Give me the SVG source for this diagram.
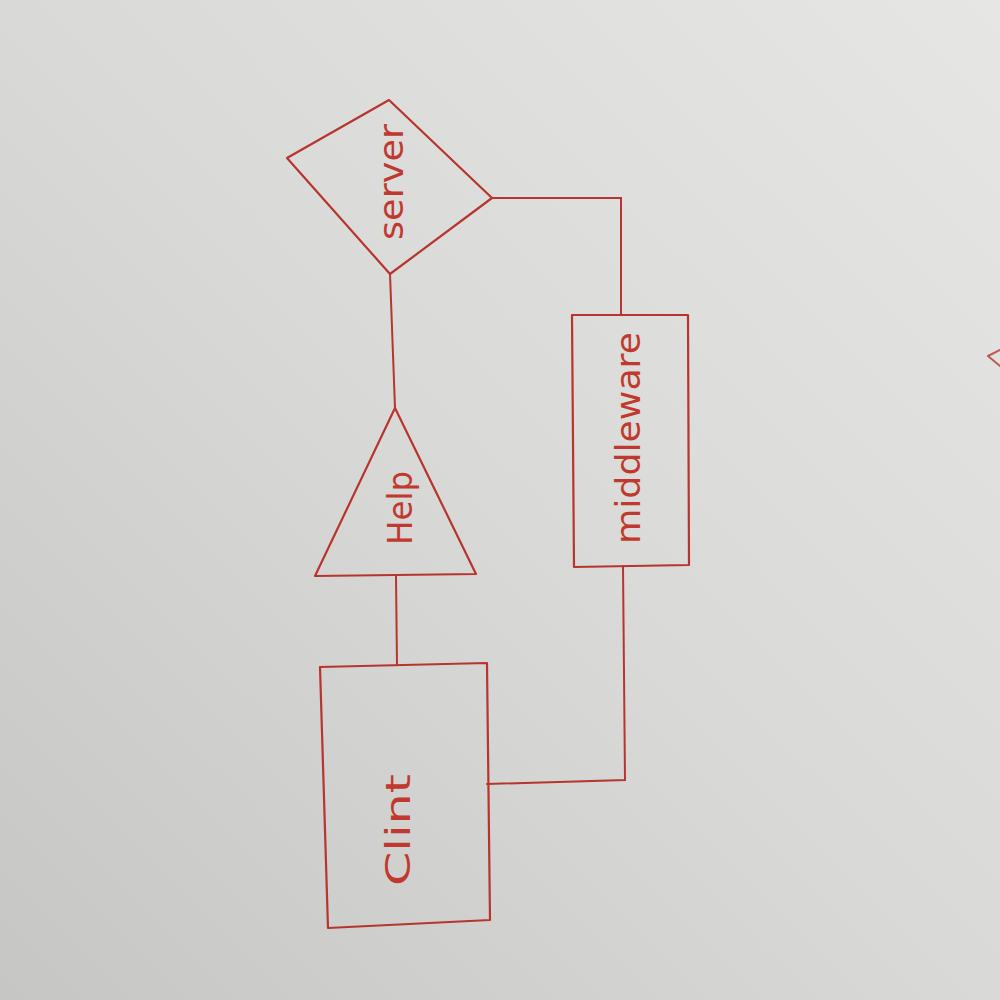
<svg xmlns="http://www.w3.org/2000/svg" width="1000" height="1000" viewBox="0 0 1000 1000">
  <defs>
    <linearGradient id="paper" x1="1" y1="0" x2="0" y2="1">
      <stop offset="0" stop-color="#e6e6e4"/>
      <stop offset="0.5" stop-color="#d9d9d7"/>
      <stop offset="1" stop-color="#c6c6c4"/>
    </linearGradient>
  </defs>
  <style>
    .shape { fill: none; stroke: #b8342e; stroke-width: 2.2; stroke-linejoin: round; stroke-linecap: round; }
    .edge { fill: none; stroke: #b8342e; stroke-width: 2; stroke-linecap: round; }
    .lbl { fill: #c0392f; font-family: "DejaVu Sans", "Liberation Sans", sans-serif; font-size: 34px; text-anchor: middle; dominant-baseline: central; lengthAdjust: spacingAndGlyphs; }
  </style>
  <rect x="0" y="0" width="1000" height="1000" fill="url(#paper)"/>
  <path d="M988,356 L1000,350 M988,356 L1000,366" class="edge" opacity="0.8"/>

  <g id="connectors">
    <path class="edge" d="M390,274 L395,408"/>
    <path class="edge" d="M396,576 L397,665"/>
    <path class="edge" d="M487,784 L625,780 L623,566"/>
    <path class="edge" d="M621,315 L621,198 L492,198"/>
  </g>

  <g id="server">
    <polygon class="shape" points="389,100 492,198 390,274 287,158"/>
    <text class="lbl" transform="translate(391,182) rotate(-90)" textLength="116" lengthAdjust="spacingAndGlyphs">server</text>
  </g>

  <g id="help">
    <polygon class="shape" points="395,408 476,574 315,576"/>
    <text class="lbl" transform="translate(400,508) rotate(-90)" textLength="74" lengthAdjust="spacingAndGlyphs">Help</text>
  </g>

  <g id="clint">
    <polygon class="shape" points="320,667 487,663 490,920 328,928"/>
    <text class="lbl" transform="translate(398,830) rotate(-90)" textLength="112" lengthAdjust="spacingAndGlyphs">Clint</text>
  </g>

  <g id="middleware">
    <polygon class="shape" points="572,315 688,315 689,565 574,567"/>
    <text class="lbl" transform="translate(628,438) rotate(-90)" textLength="212" lengthAdjust="spacingAndGlyphs">middleware</text>
  </g>
</svg>
